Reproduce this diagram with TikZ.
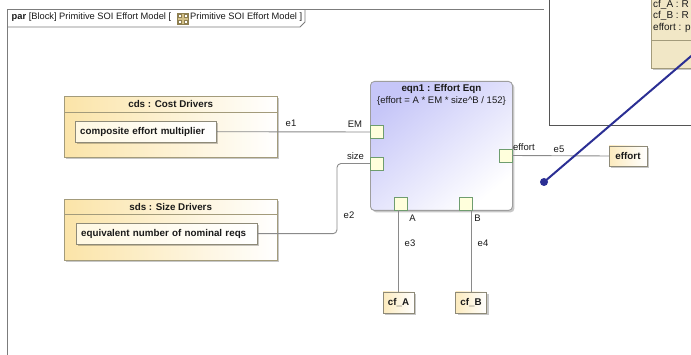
\documentclass[tikz,border=0pt]{standalone}
\usepackage{fontspec}
\setmainfont{Liberation Sans}
\usetikzlibrary{shadows,calc}

\definecolor{frameline}{HTML}{7C7C7C}
\definecolor{ovlline}{HTML}{555555}
\definecolor{tanfill}{HTML}{FBE4A8}
\definecolor{tanline}{HTML}{A39B7B}
\definecolor{partline}{HTML}{8E8A78}
\definecolor{partfill}{HTML}{FFF8E2}
\definecolor{lav}{HTML}{C6C6F8}
\definecolor{blkline}{HTML}{9E9E9E}
\definecolor{portfill}{HTML}{FFFFDC}
\definecolor{portline}{HTML}{6F9D6F}
\definecolor{connline}{HTML}{8A8A8A}
\definecolor{linkblue}{HTML}{2B2F94}
\definecolor{notefill}{HTML}{F1E7C6}
\definecolor{iconfill}{HTML}{D2BF86}
\definecolor{iconline}{HTML}{8E7F50}
\definecolor{txtcol}{HTML}{1A1A1A}

\tikzset{
  txt/.style={font=\fontsize{9.5}{11}\selectfont, text=txtcol, inner sep=0pt},
  btxt/.style={font=\fontsize{9.8}{11}\selectfont\bfseries, text=txtcol, inner sep=0pt},
  tabtxt/.style={font=\fontsize{9.3}{11}\selectfont, text=txtcol, inner sep=0pt, anchor=west},
  notetxt/.style={font=\fontsize{10}{11}\selectfont, text=txtcol, inner sep=0pt, anchor=west},
  softshadow/.style={drop shadow={shadow xshift=2pt, shadow yshift=-2pt, fill=black, opacity=0.22}},
  partgroup/.style={rectangle, draw=tanline, left color=tanfill, right color=white,
    softshadow, inner sep=0pt, anchor=north west},
  partbox/.style={rectangle, draw=partline, left color=partfill, right color=white,
    softshadow, inner xsep=5pt, inner ysep=0pt, anchor=north west, align=left,
    font=\fontsize{9.8}{11}\selectfont\bfseries, text=txtcol},
  valbox/.style={rectangle, draw=partline, left color=tanfill!75, right color=white,
    softshadow, inner sep=0pt, minimum height=21pt,
    font=\fontsize{9.8}{11}\selectfont\bfseries, text=txtcol},
  port/.style={rectangle, draw=portline, fill=portfill, minimum size=13pt, inner sep=0pt},
  conn/.style={draw=connline, line width=0.9pt},
}

\begin{document}
\begin{tikzpicture}[x=1pt, y=-1pt]
\useasboundingbox (0,0) rectangle (691,355);
\clip (0,0) rectangle (691,355);
\fill[white] (0,0) rectangle (691,355);

% diagram frame with its name tab
\draw[frameline, line width=0.9pt] (7,360) -- (7,9.5) -- (544,9.5);
\draw[frameline, line width=0.9pt] (7,27) -- (300,27) -- (305,22) -- (305,9.5);
\node[tabtxt] (tabA) at (11.5,17.5) {\textbf{par} [Block] Primitive SOI Effort Model [};
\node[rectangle, draw=iconline, fill=iconfill, minimum size=11pt, inner sep=0pt] (icon) at (182.5,18.5) {};
\foreach \dx/\dy in {-3/-3, 3/-3, -3/3, 3/3}
  \draw[iconline, fill=white, line width=0.4pt] ($(icon.center)+(\dx-1.6,\dy-1.6)$) rectangle ($(icon.center)+(\dx+1.6,\dy+1.6)$);
\node[tabtxt] (tabB) at (190,17.5) {Primitive SOI Effort Model ]};

% overlapping window in the upper right corner
\node[rectangle, draw=ovlline, fill=white, line width=1.2pt, anchor=north west,
      minimum width=170pt, minimum height=135pt, inner sep=0pt] (ovl) at (549,-10) {};
\node[rectangle, draw=tanline, fill=notefill, softshadow, anchor=north west,
      minimum width=70pt, minimum height=88pt, inner sep=0pt] (note) at (651,-20) {};
\draw[tanline] (651,40) -- (721,40);
\node[notetxt] (nA) at (653,4.5) {cf\_A : R};
\node[notetxt] (nB) at (653,16) {cf\_B : R};
\node[notetxt] (nE) at (653,27.5) {effort : p};

% cost drivers
\node[partgroup, minimum width=213pt, minimum height=61pt] (cds) at (64,96) {};
\draw[tanline] ($(cds.north west)+(0,16)$) -- ($(cds.north east)+(0,16)$);
\node[btxt] (cdsT) at ($(cds.north)+(0,8)$) {cds : Cost Drivers};
\node[partbox, minimum width=141pt, minimum height=21pt, text width=131pt] (cem) at (75,121) {composite effort multiplier};

% size drivers
\node[partgroup, minimum width=213pt, minimum height=61pt] (sds) at (64,199) {};
\draw[tanline] ($(sds.north west)+(0,15)$) -- ($(sds.north east)+(0,15)$);
\node[btxt] (sdsT) at ($(sds.north)+(0,7.5)$) {sds : Size Drivers};
\node[partbox, minimum width=181pt, minimum height=21pt, text width=171pt] (enr) at (76,223) {equivalent number of nominal reqs};

% constraint block
\node[rectangle, rounded corners=4pt, draw=blkline, line width=0.9pt, anchor=north west,
      minimum width=142pt, minimum height=129pt, inner sep=0pt, softshadow,
      top color=lav, bottom color=white, shading angle=40] (eqn) at (370,81) {};
\node[btxt] (eqnT) at ($(eqn.north)+(0,7.5)$) {eqn1 : Effort Eqn};
\node[txt] (eqnC) at ($(eqn.north)+(0,20.5)$) {\{effort = A * EM * size\textasciicircum B / 152\}};

% parameter ports
\node[port] (pEM) at (376.5,132) {};
\node[port] (pSize) at (376.5,163.5) {};
\node[port] (pEff) at (505.5,155.5) {};
\node[port] (pA) at (401,203.5) {};
\node[port] (pB) at (466,203.5) {};
\node[txt] (lEM) at (355,124.5) {EM};
\node[txt] (lSize) at (355.5,156) {size};
\node[txt, anchor=west] (lEff) at (513,147) {effort};
\node[txt] (lA) at (412.5,218.5) {A};
\node[txt] (lB) at (477.5,218.5) {B};

% value properties
\node[valbox, minimum width=31pt] (cfA) at (398.5,302.5) {cf\_A};
\node[valbox, minimum width=31pt] (cfB) at (471,302.5) {cf\_B};
\node[valbox, minimum width=38pt, minimum height=20pt] (effb) at (628,156) {effort};

% binding connectors
\coordinate (e2bend) at (337,163.5);
\draw[conn] (cem.east) -- (pEM.west);
\draw[conn, rounded corners=4pt] (enr.east) -| (e2bend) -- (pSize.west);
\draw[conn] (cfA.north) -- (cfA.north |- pA.south);
\draw[conn] (cfB.north) -- (cfB.north |- pB.south);
\draw[conn] (pEff.east) -- (effb.west);
\node[txt] (le1) at (291,123.5) {e1};
\node[txt] (le2) at (349,215) {e2};
\node[txt] (le3) at (410,243) {e3};
\node[txt] (le4) at (483,243) {e4};
\node[txt] (le5) at (559,149) {e5};

% link line ending in a dot
\coordinate (linkEnd) at (700,48.5);
\node[circle, fill=linkblue, minimum size=8pt, inner sep=0pt] (dot) at (544,182) {};
\draw[linkblue, line width=2pt] (dot.center) -- (linkEnd);
\end{tikzpicture}
\end{document}
